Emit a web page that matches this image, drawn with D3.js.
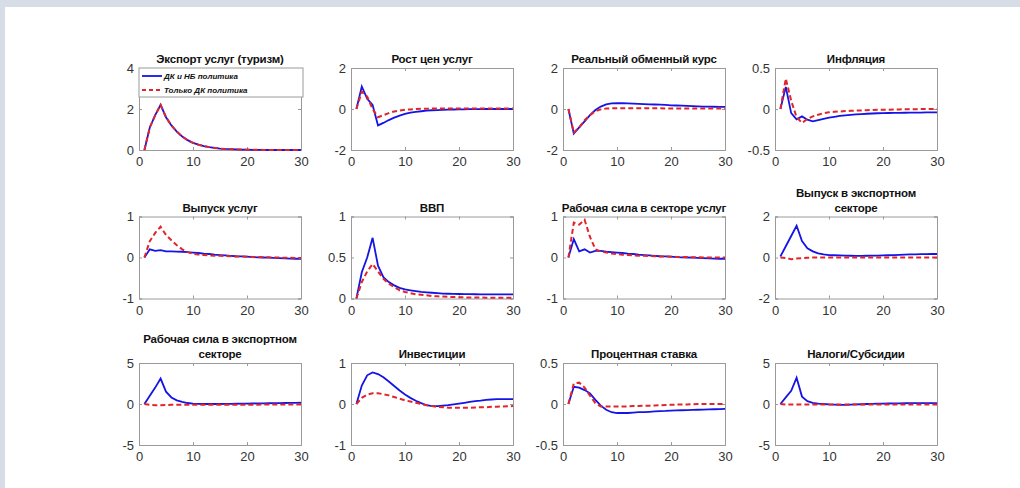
<!DOCTYPE html>
<html>
<head>
<meta charset="utf-8">
<script src="https://cdn.jsdelivr.net/npm/d3@7"></script>
<style>
  body { margin: 0; background: #fff; }
  svg { display: block; }
</style>
</head>
<body>
<div id="chart"></div>
<script>
// периоды 1..30
const periods = d3.range(1, 31);

const titles = [
  ["Экспорт услуг (туризм)"], ["Рост цен услуг"], ["Реальный обменный курс"], ["Инфляция"],
  ["Выпуск услуг"], ["ВВП"], ["Рабочая сила в секторе услуг"], ["Выпуск в экспортном", "секторе"],
  ["Рабочая сила в экспортном", "секторе"], ["Инвестиции"], ["Процентная ставка"], ["Налоги/Субсидии"]
];

const yLimits = [[0, 4], [-2, 2], [-2, 2], [-0.5, 0.5], [-1, 1], [0, 1], [-1, 1], [-2, 2], [-5, 5], [-1, 1], [-0.5, 0.5], [-5, 5]];
const yTicks = [[0, 2, 4], [-2, 0, 2], [-2, 0, 2], [-0.5, 0, 0.5], [-1, 0, 1], [0, 0.5, 1], [-1, 0, 1], [-2, 0, 2], [-5, 0, 5], [-1, 0, 1], [-0.5, 0, 0.5], [-5, 0, 5]];
const xTicks = [0, 10, 20, 30];

const legendLabels = ["ДК и НБ политика", "Только ДК политика"];

// синяя линия: ДК и НБ политика
const blue = [
  [0, 1.1, 1.7, 2.2, 1.6, 1.2, 0.9, 0.66, 0.48, 0.35, 0.26, 0.19, 0.14, 0.1, 0.07, 0.05, 0.04, 0.03, 0.02, 0.015, 0.01, 0.01, 0.005, 0, 0, 0, 0, 0, 0, 0],
  [0, 1.1, 0.5, 0.2, -0.8, -0.68, -0.54, -0.42, -0.32, -0.24, -0.18, -0.14, -0.11, -0.08, -0.06, -0.05, -0.04, -0.03, -0.025, -0.02, -0.015, -0.01, -0.01, -0.005, 0, 0, 0, 0, 0, 0],
  [0, -1.2, -0.9, -0.6, -0.3, -0.05, 0.12, 0.22, 0.27, 0.28, 0.28, 0.27, 0.26, 0.25, 0.24, 0.23, 0.22, 0.21, 0.2, 0.18, 0.17, 0.16, 0.15, 0.14, 0.13, 0.12, 0.12, 0.11, 0.1, 0.1],
  [0, 0.27, -0.05, -0.125, -0.09, -0.13, -0.15, -0.135, -0.12, -0.105, -0.095, -0.085, -0.078, -0.072, -0.066, -0.062, -0.058, -0.055, -0.052, -0.05, -0.049, -0.048, -0.047, -0.046, -0.045, -0.044, -0.043, -0.042, -0.041, -0.04],
  [0, 0.2, 0.16, 0.18, 0.15, 0.15, 0.145, 0.14, 0.13, 0.12, 0.11, 0.095, 0.085, 0.07, 0.06, 0.05, 0.04, 0.03, 0.025, 0.02, 0.01, 0.005, 0, -0.005, -0.01, -0.015, -0.02, -0.025, -0.03, -0.03],
  [0, 0.32, 0.5, 0.74, 0.4, 0.26, 0.2, 0.16, 0.13, 0.11, 0.1, 0.09, 0.08, 0.075, 0.07, 0.065, 0.06, 0.058, 0.056, 0.055, 0.054, 0.053, 0.052, 0.051, 0.05, 0.05, 0.05, 0.05, 0.05, 0.05],
  [0, 0.45, 0.15, 0.2, 0.12, 0.16, 0.16, 0.14, 0.13, 0.12, 0.11, 0.095, 0.085, 0.07, 0.06, 0.05, 0.04, 0.03, 0.025, 0.02, 0.01, 0.005, 0, -0.005, -0.01, -0.015, -0.02, -0.025, -0.03, -0.03],
  [0.05, 0.55, 1.05, 1.55, 0.8, 0.45, 0.3, 0.2, 0.15, 0.12, 0.11, 0.1, 0.09, 0.085, 0.08, 0.08, 0.085, 0.09, 0.095, 0.1, 0.11, 0.12, 0.13, 0.14, 0.15, 0.15, 0.16, 0.16, 0.17, 0.17],
  [0, 1, 2, 3.1, 1.5, 0.8, 0.45, 0.25, 0.12, 0.05, 0.02, 0, 0, 0, 0, 0.01, 0.02, 0.03, 0.04, 0.05, 0.06, 0.07, 0.08, 0.09, 0.1, 0.11, 0.12, 0.13, 0.14, 0.15],
  [0, 0.45, 0.7, 0.77, 0.73, 0.65, 0.55, 0.44, 0.33, 0.23, 0.15, 0.08, 0.02, -0.03, -0.05, -0.05, -0.04, -0.03, -0.01, 0.01, 0.03, 0.05, 0.07, 0.08, 0.1, 0.11, 0.12, 0.12, 0.12, 0.12],
  [0, 0.21, 0.2, 0.17, 0.13, 0.05, -0.02, -0.07, -0.1, -0.11, -0.11, -0.11, -0.105, -0.1, -0.1, -0.095, -0.09, -0.088, -0.085, -0.08, -0.078, -0.076, -0.074, -0.072, -0.07, -0.068, -0.066, -0.064, -0.062, -0.06],
  [0, 0.8, 1.6, 3.2, 0.9, 0.35, 0.15, 0.05, 0, -0.05, -0.08, -0.1, -0.1, -0.08, -0.05, -0.03, 0, 0.02, 0.04, 0.05, 0.06, 0.07, 0.08, 0.09, 0.1, 0.1, 0.1, 0.1, 0.1, 0.1]
];

// красная пунктирная: Только ДК политика
const red = [
  [0, 1.1, 1.7, 2.2, 1.6, 1.2, 0.9, 0.66, 0.48, 0.35, 0.26, 0.19, 0.14, 0.1, 0.07, 0.05, 0.04, 0.03, 0.02, 0.015, 0.01, 0.01, 0.005, 0, 0, 0, 0, 0, 0, 0],
  [0, 0.85, 0.6, 0, -0.4, -0.3, -0.2, -0.12, -0.07, -0.04, -0.02, 0, 0.01, 0.015, 0.02, 0.02, 0.02, 0.02, 0.02, 0.02, 0.02, 0.02, 0.02, 0.02, 0.02, 0.02, 0.02, 0.02, 0.02, 0.02],
  [0, -1.15, -0.9, -0.55, -0.3, -0.1, -0.02, 0.02, 0.03, 0.04, 0.04, 0.04, 0.04, 0.04, 0.04, 0.04, 0.035, 0.035, 0.03, 0.03, 0.03, 0.03, 0.025, 0.025, 0.025, 0.02, 0.02, 0.02, 0.02, 0.02],
  [0, 0.37, 0.1, -0.1, -0.17, -0.12, -0.09, -0.07, -0.05, -0.04, -0.035, -0.03, -0.025, -0.022, -0.02, -0.017, -0.015, -0.012, -0.01, -0.01, -0.008, -0.006, -0.005, -0.004, -0.003, -0.002, -0.001, 0, 0, 0],
  [0, 0.4, 0.6, 0.75, 0.55, 0.42, 0.3, 0.2, 0.13, 0.09, 0.07, 0.06, 0.05, 0.045, 0.04, 0.035, 0.03, 0.025, 0.022, 0.02, 0.015, 0.01, 0.008, 0.005, 0, -0.002, -0.005, -0.008, -0.01, -0.01],
  [0, 0.2, 0.33, 0.42, 0.33, 0.24, 0.18, 0.14, 0.1, 0.08, 0.065, 0.05, 0.045, 0.04, 0.03, 0.027, 0.024, 0.02, 0.018, 0.015, 0.014, 0.013, 0.012, 0.011, 0.01, 0.01, 0.01, 0.01, 0.01, 0.01],
  [0, 0.85, 0.8, 0.92, 0.5, 0.2, 0.15, 0.12, 0.1, 0.08, 0.07, 0.06, 0.05, 0.045, 0.04, 0.035, 0.03, 0.025, 0.022, 0.02, 0.015, 0.012, 0.01, 0.008, 0.005, 0.003, 0, 0, 0, 0],
  [0, -0.02, -0.08, -0.05, -0.03, -0.01, 0, 0, 0, 0, 0, 0, 0, 0, 0, 0, 0, 0, 0, 0, 0, 0, 0, 0, 0, 0, 0, 0, 0, 0],
  [0, -0.1, -0.15, -0.15, -0.12, -0.1, -0.1, -0.1, -0.1, -0.1, -0.1, -0.1, -0.1, -0.1, -0.1, -0.1, -0.1, -0.09, -0.09, -0.08, -0.08, -0.08, -0.07, -0.07, -0.06, -0.06, -0.06, -0.05, -0.05, -0.05],
  [0, 0.15, 0.23, 0.26, 0.26, 0.24, 0.21, 0.17, 0.13, 0.09, 0.06, 0.03, 0, -0.03, -0.05, -0.07, -0.08, -0.09, -0.09, -0.09, -0.09, -0.09, -0.085, -0.08, -0.08, -0.07, -0.065, -0.06, -0.055, -0.05],
  [0, 0.25, 0.26, 0.2, 0.1, 0.01, -0.03, -0.03, -0.03, -0.03, -0.03, -0.03, -0.025, -0.025, -0.02, -0.02, -0.018, -0.015, -0.012, -0.01, -0.008, -0.006, -0.005, -0.004, 0, 0, 0, 0, 0, 0],
  [0, -0.05, -0.05, -0.05, -0.05, -0.05, -0.05, -0.05, -0.05, -0.05, -0.05, -0.05, -0.05, -0.05, -0.05, -0.05, -0.05, -0.05, -0.05, -0.05, -0.05, -0.05, -0.05, -0.05, -0.05, -0.05, -0.05, -0.05, -0.05, -0.05]
];

const width = 1020, height = 488;
const colLeft = [139, 351, 563, 775];
const rowTop = [68, 216.5, 363];
const pw = 162, ph = 82;

const svg = d3.select("#chart").append("svg")
  .attr("width", width).attr("height", height)
  .style("font-family", "'Liberation Sans', Arial, sans-serif");

// рамка скриншота
svg.append("rect").attr("x", 0).attr("y", 0).attr("width", width).attr("height", 7).attr("fill", "#d6dde7");
svg.append("rect").attr("x", 0).attr("y", 0).attr("width", 5).attr("height", height).attr("fill", "#d6dde7");

const fmt = v => (v === 0 ? "0" : String(v));

titles.forEach((title, i) => {
  const x0 = colLeft[i % 4], y0 = rowTop[Math.floor(i / 4)];
  const x = d3.scaleLinear().domain([0, 30]).range([x0, x0 + pw]);
  const y = d3.scaleLinear().domain(yLimits[i]).range([y0 + ph, y0]);
  const g = svg.append("g");

  g.append("rect")
    .attr("x", x0).attr("y", y0).attr("width", pw).attr("height", ph)
    .attr("fill", "#fff");

  // оси в стиле MATLAB: тики внутрь со всех сторон
  const axB = g.append("g").attr("transform", `translate(0,${y0 + ph})`)
    .call(d3.axisBottom(x).tickValues(xTicks).tickSize(-3).tickPadding(7).tickFormat(fmt));
  const axT = g.append("g").attr("transform", `translate(0,${y0})`)
    .call(d3.axisTop(x).tickValues(xTicks).tickSize(-3).tickFormat(""));
  const axL = g.append("g").attr("transform", `translate(${x0},0)`)
    .call(d3.axisLeft(y).tickValues(yTicks[i]).tickSize(-3).tickPadding(5).tickFormat(fmt));
  const axR = g.append("g").attr("transform", `translate(${x0 + pw},0)`)
    .call(d3.axisRight(y).tickValues(yTicks[i]).tickSize(-3).tickFormat(""));

  [axB, axT, axL, axR].forEach(a => {
    a.select(".domain").attr("stroke", "#9a9a9a");
    a.selectAll(".tick line").attr("stroke", "#9a9a9a");
    a.selectAll(".tick text").attr("fill", "#333").style("font-size", "13px");
  });

  const line = d3.line().x((d, k) => x(periods[k])).y(d => y(d));

  g.append("path").datum(blue[i])
    .attr("fill", "none").attr("stroke", "#1414e6").attr("stroke-width", 1.8)
    .attr("d", line);
  g.append("path").datum(red[i])
    .attr("fill", "none").attr("stroke", "#e0262b").attr("stroke-width", 2)
    .attr("stroke-dasharray", "5,3").attr("d", line);

  // заголовок
  const n = title.length;
  title.forEach((t, k) => {
    g.append("text")
      .attr("x", x0 + pw / 2)
      .attr("y", y0 - 5 - (n - 1 - k) * 15)
      .attr("text-anchor", "middle")
      .style("font-size", "11.5px").style("font-weight", "bold")
      .style("letter-spacing", "-0.2px")
      .attr("fill", "#111")
      .text(t);
  });

  // легенда в первой панели
  if (i === 0) {
    const lg = g.append("g");
    lg.append("rect").attr("x", x0).attr("y", y0).attr("width", pw + 2).attr("height", 29)
      .attr("fill", "#fff").attr("stroke", "#9a9a9a");
    legendLabels.forEach((lab, k) => {
      const ly = y0 + 8 + k * 14;
      lg.append("line").attr("x1", x0 + 3).attr("x2", x0 + 23).attr("y1", ly).attr("y2", ly)
        .attr("stroke", k === 0 ? "#1414e6" : "#e0262b").attr("stroke-width", k === 0 ? 1.8 : 2)
        .attr("stroke-dasharray", k === 0 ? null : "4,3");
      lg.append("text").attr("x", x0 + 25).attr("y", ly + 3)
        .style("font-size", "8px").style("font-style", "italic").style("font-weight", "bold")
        .attr("fill", "#111").text(lab);
    });
  }
});
</script>
</body>
</html>
